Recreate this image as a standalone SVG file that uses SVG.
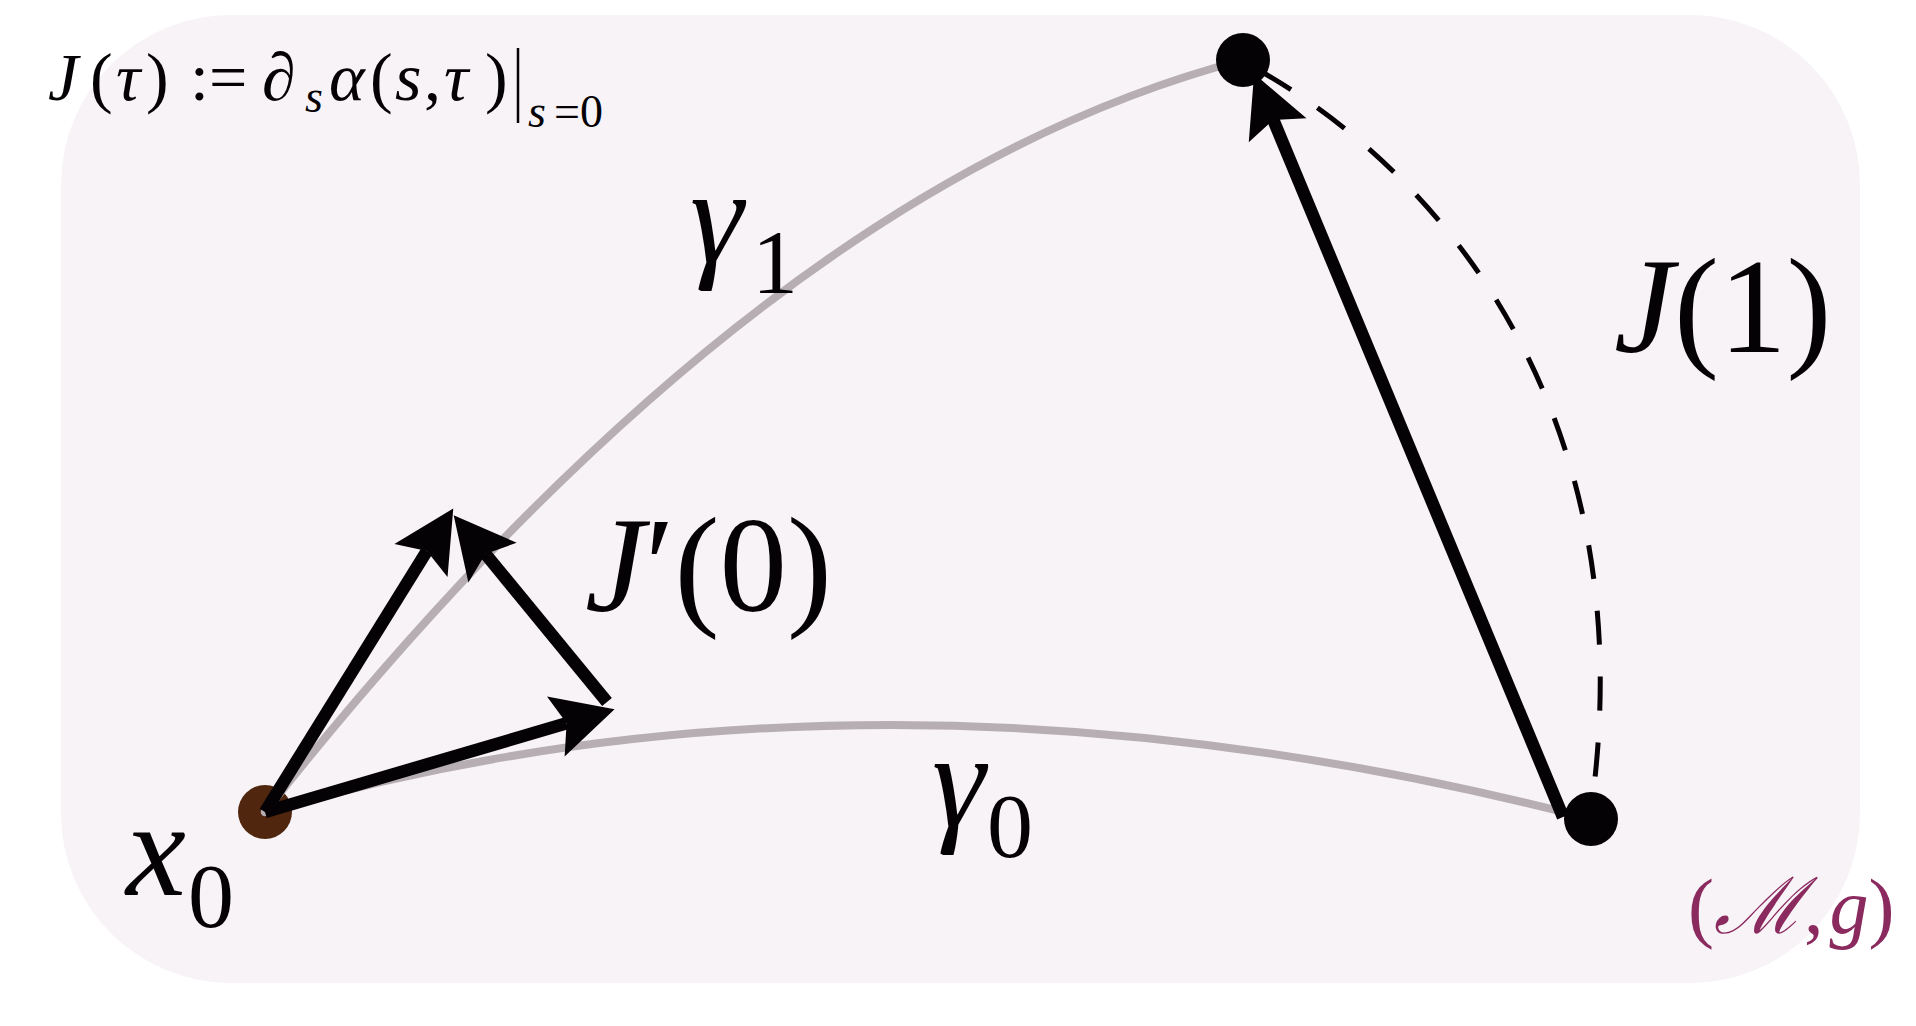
<svg xmlns="http://www.w3.org/2000/svg" width="1916" height="1026" viewBox="0 0 1916 1026">
<style>
.geo{fill:none;stroke:#b7aeb3;stroke-width:8;stroke-linecap:round}
.vec{fill:none;stroke:#050205;stroke-width:12.5;marker-end:url(#ah)}
.dash{fill:none;stroke:#050205;stroke-width:5;stroke-dasharray:34 32}
.dot{fill:#050205}
.lbl{font-family:"Liberation Serif","Times New Roman",serif;fill:#050205}
.it{font-style:italic}
.mg{fill:#8a2a5e}
</style>
<defs>
<marker id="ah" markerUnits="userSpaceOnUse" markerWidth="70" markerHeight="70" viewBox="-12 -28 56 56" refX="0" refY="0" orient="auto" overflow="visible">
<path d="M40,0 L-9,-25 L0,0 L-9,25 Z" fill="#050205"/>
</marker>
</defs>
<rect id="manifold" x="61" y="15" width="1799" height="968" rx="170" ry="170" fill="#f7f3f7"/>
<g id="x0-node"><circle cx="265" cy="812" r="27" fill="#50260e"/></g>
<g id="connectors">
<path id="gamma1" class="geo" d="M265,812 Q760,186 1243,60"/>
<path id="gamma0" class="geo" d="M265,812 Q880,634.5 1591,819"/>
<line class="vec" x1="265" y1="812" x2="426.9" y2="551"/>
<line class="vec" x1="265" y1="812" x2="566.6" y2="723.3"/>
<line class="vec" x1="607" y1="702" x2="485.4" y2="553.9"/>
<path class="dash" d="M1262,72 C1450,180 1640,420 1593,795"/>
<line class="vec" x1="1563" y1="817" x2="1273.3" y2="119.9"/>
</g>
<g id="top-node"><circle class="dot" cx="1243" cy="60" r="27"/></g>
<g id="end-node"><circle class="dot" cx="1591" cy="819" r="27"/></g>
<g id="labels" class="lbl">
<text font-size="68"><tspan class="it" x="48" y="100">J</tspan><tspan x="90" y="100">(</tspan><tspan class="it" x="116" y="100">τ</tspan><tspan x="146" y="100">)</tspan><tspan x="190" y="100">:=</tspan><tspan x="262" y="100">∂</tspan><tspan class="it" x="305" y="112" font-size="46">s</tspan><tspan class="it" x="329" y="100">α</tspan><tspan x="370" y="100">(</tspan><tspan class="it" x="395" y="100">s</tspan><tspan x="424" y="100">,</tspan><tspan class="it" x="444" y="100">τ</tspan><tspan x="485" y="100">)</tspan></text>
<line x1="518" y1="48" x2="518" y2="123" stroke="#050205" stroke-width="2.5"/>
<text font-size="46"><tspan class="it" x="528" y="127">s</tspan><tspan x="554" y="127">=0</tspan></text>
<text font-size="135"><tspan class="it" x="690" y="262">γ</tspan><tspan x="752" y="293" font-size="92">1</tspan></text>
<text font-size="135" x="585" y="611"><tspan class="it">J</tspan>′(0)</text>
<text font-size="135" x="1614" y="352"><tspan class="it">J</tspan>(1)</text>
<text font-size="135"><tspan class="it" x="932" y="826">γ</tspan><tspan x="987" y="857" font-size="92">0</tspan></text>
<text font-size="135"><tspan class="it" x="126" y="895">x</tspan><tspan x="188" y="927" font-size="92">0</tspan></text>
<text class="mg" font-size="78" x="1688" y="933">(<tspan class="it">ℳ</tspan>,<tspan class="it" dx="6">g</tspan>)</text>
</g>
</svg>
